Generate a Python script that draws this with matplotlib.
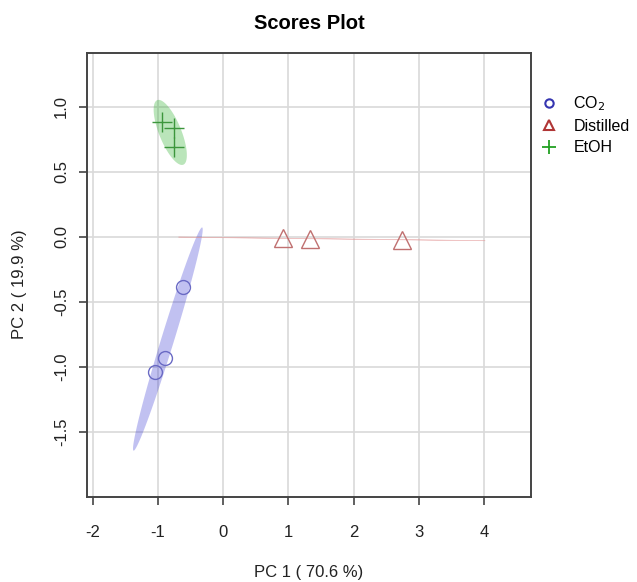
import numpy as np
import matplotlib
matplotlib.use("Agg")
import matplotlib.pyplot as plt
from matplotlib.lines import Line2D

plt.rcParams['font.family'] = ['Liberation Sans', 'DejaVu Sans']
plt.rcParams['axes.unicode_minus'] = False

# PCA scores
groups = ["CO$_2$", "Distilled", "EtOH"]
co2_pc1 = [-0.61, -0.89, -1.04]
co2_pc2 = [-0.385, -0.93, -1.04]
dist_pc1 = [0.92, 1.33, 2.75]
dist_pc2 = [-0.010, -0.013, -0.021]
etoh_pc1 = [-0.93, -0.75, -0.75]
etoh_pc2 = [0.887, 0.836, 0.69]

pc1_var = 70.6
pc2_var = 19.9

x_ticks = [-2, -1, 0, 1, 2, 3, 4]
y_ticks = [-1.5, -1.0, -0.5, 0.0, 0.5, 1.0]

marker_cols = ["#6a6ac4", "#c07070", "#3c963c"]
legend_cols = ["#3535b0", "#b03535", "#22a022"]
fill_cols = [("#2222d0", 0.28), ("#e49a9a", 0.55), ("#30b030", 0.33)]
markers = ["o", "^", "+"]


def conf_ellipse(x, y, level_chi=5.991, n=200):
    # 95% confidence ellipse from the sample covariance
    x = np.asarray(x)
    y = np.asarray(y)
    cov = np.cov(x, y)
    vals, vecs = np.linalg.eigh(cov)
    vals = np.clip(vals, 0, None)
    t = np.linspace(0, 2 * np.pi, n)
    circle = np.vstack([np.cos(t), np.sin(t)])
    pts = vecs @ (np.sqrt(vals * level_chi)[:, None] * circle)
    return pts[0] + x.mean(), pts[1] + y.mean()


fig = plt.figure(figsize=(6.37, 5.82), dpi=100)
ax = fig.add_axes([0.1366, 0.146, 0.697, 0.7629])

for v in x_ticks:
    ax.axvline(v, color="#d9d9d9", lw=1.2, zorder=0)
for v in y_ticks:
    ax.axhline(v, color="#d9d9d9", lw=1.2, zorder=0)

data = [(co2_pc1, co2_pc2), (dist_pc1, dist_pc2), (etoh_pc1, etoh_pc2)]
for i, (xs, ys) in enumerate(data):
    ex, ey = conf_ellipse(xs, ys)
    col, a = fill_cols[i]
    if i == 1:
        # nearly flat ellipse: shows as a faint line
        ax.fill(ex, ey, color=col, alpha=a, lw=0.5, zorder=1)
    else:
        ax.fill(ex, ey, color=col, alpha=a, lw=0, zorder=1)

ax.plot(co2_pc1, co2_pc2, ls="none", marker="o", ms=10, mfc="none",
        mec=marker_cols[0], mew=1.0, zorder=3)
ax.plot(dist_pc1, dist_pc2, ls="none", marker="^", ms=13, mfc="none",
        mec=marker_cols[1], mew=1.0, zorder=3)
ax.plot(etoh_pc1, etoh_pc2, ls="none", marker="+", ms=15, mec=marker_cols[2],
        mew=1.0, zorder=3)

ax.set_xlim(-2.086, 4.72)
ax.set_ylim(-2.0, 1.415)
ax.set_xticks(x_ticks)
ax.set_yticks(y_ticks)
ax.set_yticklabels(["%.1f" % v for v in y_ticks], rotation=90, va="center")

for s in ax.spines.values():
    s.set_color("#444444")
    s.set_linewidth(1.4)
ax.tick_params(direction="out", length=6, width=1.2, color="#444444",
               labelsize=12, labelcolor="#222222")
ax.tick_params(axis="x", pad=14)
ax.tick_params(axis="y", pad=7)

ax.set_xlabel("PC 1 ( %.1f %%)" % pc1_var, fontsize=12, color="#222222")
ax.set_ylabel("PC 2 ( %.1f %%)" % pc2_var, fontsize=12, color="#222222")
ax.xaxis.set_label_coords(0.5, -0.153)
ax.yaxis.set_label_coords(-0.135, 0.48)

fig.text(0.485, 0.96, "Scores Plot", ha="center", va="center",
         fontsize=14.5, fontweight="bold")

handles = [
    Line2D([], [], ls="none", marker="o", ms=6, mfc="none", mec=legend_cols[0], mew=1.5),
    Line2D([], [], ls="none", marker="^", ms=7, mfc="none", mec=legend_cols[1], mew=1.5),
    Line2D([], [], ls="none", marker="+", ms=10, mec=legend_cols[2], mew=1.3),
]
fig.legend(handles, groups, loc="upper left", bbox_to_anchor=(0.85, 0.838),
           frameon=False, fontsize=11.5, handlelength=1.0, handletextpad=1.0,
           labelspacing=0.38, borderaxespad=0, borderpad=0)

fig.savefig("out.png", dpi=100)
